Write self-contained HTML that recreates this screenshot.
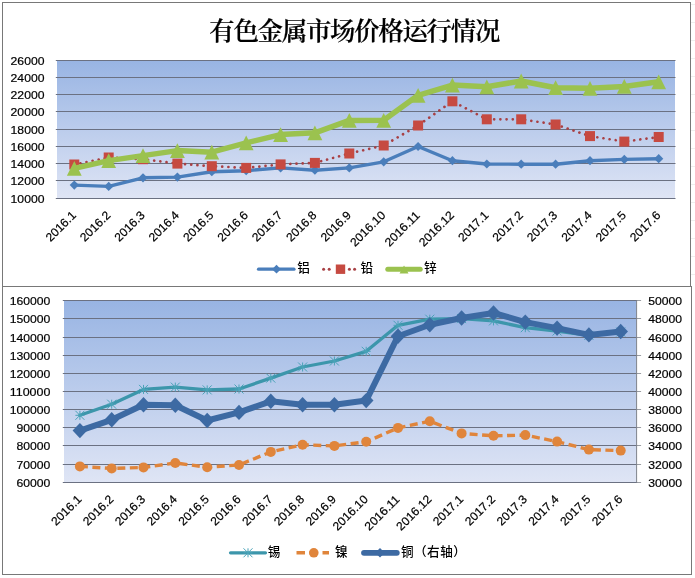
<!DOCTYPE html>
<html lang="zh-CN"><head><meta charset="utf-8"><title>有色金属市场价格运行情况</title>
<style>html,body{margin:0;padding:0;background:#fff}body{width:695px;height:578px;overflow:hidden}svg{display:block}</style>
</head><body>
<svg width="695" height="578" viewBox="0 0 695 578">
<defs>
<linearGradient id="pg" x1="0" y1="0" x2="0" y2="1"><stop offset="0" stop-color="#98b4e3"/><stop offset="1" stop-color="#dfe5f5"/></linearGradient>
</defs>
<rect width="695" height="578" fill="#fff"/>
<line x1="691" y1="4.5" x2="695" y2="4.5" stroke="#efefef"/><line x1="691" y1="22.5" x2="695" y2="22.5" stroke="#efefef"/><line x1="691" y1="40.5" x2="695" y2="40.5" stroke="#efefef"/><line x1="691" y1="58.5" x2="695" y2="58.5" stroke="#efefef"/><line x1="691" y1="76.5" x2="695" y2="76.5" stroke="#efefef"/><line x1="691" y1="94.5" x2="695" y2="94.5" stroke="#efefef"/><line x1="691" y1="112.5" x2="695" y2="112.5" stroke="#efefef"/><line x1="691" y1="130.5" x2="695" y2="130.5" stroke="#efefef"/><line x1="691" y1="148.5" x2="695" y2="148.5" stroke="#efefef"/><line x1="691" y1="166.5" x2="695" y2="166.5" stroke="#efefef"/><line x1="691" y1="184.5" x2="695" y2="184.5" stroke="#efefef"/><line x1="691" y1="202.5" x2="695" y2="202.5" stroke="#efefef"/><line x1="691" y1="220.5" x2="695" y2="220.5" stroke="#efefef"/><line x1="691" y1="238.5" x2="695" y2="238.5" stroke="#efefef"/><line x1="691" y1="256.5" x2="695" y2="256.5" stroke="#efefef"/><line x1="691" y1="274.5" x2="695" y2="274.5" stroke="#efefef"/>
<rect x="2.5" y="2.5" width="688" height="284" fill="#fff" stroke="#787878"/>
<rect x="2.5" y="286.5" width="689" height="288" fill="#fff" stroke="#787878"/>
<rect x="57" y="60.5" width="618" height="138" fill="url(#pg)"/>
<line x1="55.8" y1="60.5" x2="675.5" y2="60.5" stroke="#6b7182" stroke-width="1"/>
<line x1="55.8" y1="77.5" x2="675.5" y2="77.5" stroke="#6b7182" stroke-width="1"/>
<line x1="55.8" y1="94.5" x2="675.5" y2="94.5" stroke="#6b7182" stroke-width="1"/>
<line x1="55.8" y1="111.5" x2="675.5" y2="111.5" stroke="#6b7182" stroke-width="1"/>
<line x1="55.8" y1="129.5" x2="675.5" y2="129.5" stroke="#6b7182" stroke-width="1"/>
<line x1="55.8" y1="146.5" x2="675.5" y2="146.5" stroke="#6b7182" stroke-width="1"/>
<line x1="55.8" y1="163.5" x2="675.5" y2="163.5" stroke="#6b7182" stroke-width="1"/>
<line x1="55.8" y1="180.5" x2="675.5" y2="180.5" stroke="#6b7182" stroke-width="1"/>
<line x1="55.8" y1="198.5" x2="675.5" y2="198.5" stroke="#6b7182" stroke-width="1"/>
<g font-family="'Liberation Sans',sans-serif" font-size="11.8" stroke="#000" stroke-width="0.2" fill="#000" text-anchor="end">
<text x="44.5" y="64.5" textLength="33.9" lengthAdjust="spacingAndGlyphs">26000</text>
<text x="44.5" y="81.5" textLength="33.9" lengthAdjust="spacingAndGlyphs">24000</text>
<text x="44.5" y="98.5" textLength="33.9" lengthAdjust="spacingAndGlyphs">22000</text>
<text x="44.5" y="115.5" textLength="33.9" lengthAdjust="spacingAndGlyphs">20000</text>
<text x="44.5" y="133.5" textLength="33.9" lengthAdjust="spacingAndGlyphs">18000</text>
<text x="44.5" y="150.5" textLength="33.9" lengthAdjust="spacingAndGlyphs">16000</text>
<text x="44.5" y="167.5" textLength="33.9" lengthAdjust="spacingAndGlyphs">14000</text>
<text x="44.5" y="184.5" textLength="33.9" lengthAdjust="spacingAndGlyphs">12000</text>
<text x="44.5" y="202.5" textLength="33.9" lengthAdjust="spacingAndGlyphs">10000</text>
</g>
<g font-family="'Liberation Sans',sans-serif" font-size="11.8" stroke="#000" stroke-width="0.2" fill="#000" text-anchor="end">
<text transform="translate(76.8 216) rotate(-45)" textLength="37.3" lengthAdjust="spacingAndGlyphs">2016.1</text>
<text transform="translate(111.2 216) rotate(-45)" textLength="37.3" lengthAdjust="spacingAndGlyphs">2016.2</text>
<text transform="translate(145.5 216) rotate(-45)" textLength="37.3" lengthAdjust="spacingAndGlyphs">2016.3</text>
<text transform="translate(179.9 216) rotate(-45)" textLength="37.3" lengthAdjust="spacingAndGlyphs">2016.4</text>
<text transform="translate(214.3 216) rotate(-45)" textLength="37.3" lengthAdjust="spacingAndGlyphs">2016.5</text>
<text transform="translate(248.7 216) rotate(-45)" textLength="37.3" lengthAdjust="spacingAndGlyphs">2016.6</text>
<text transform="translate(283.1 216) rotate(-45)" textLength="37.3" lengthAdjust="spacingAndGlyphs">2016.7</text>
<text transform="translate(317.4 216) rotate(-45)" textLength="37.3" lengthAdjust="spacingAndGlyphs">2016.8</text>
<text transform="translate(351.8 216) rotate(-45)" textLength="37.3" lengthAdjust="spacingAndGlyphs">2016.9</text>
<text transform="translate(386.2 216) rotate(-45)" textLength="44.1" lengthAdjust="spacingAndGlyphs">2016.10</text>
<text transform="translate(420.6 216) rotate(-45)" textLength="44.1" lengthAdjust="spacingAndGlyphs">2016.11</text>
<text transform="translate(454.9 216) rotate(-45)" textLength="44.1" lengthAdjust="spacingAndGlyphs">2016.12</text>
<text transform="translate(489.3 216) rotate(-45)" textLength="37.3" lengthAdjust="spacingAndGlyphs">2017.1</text>
<text transform="translate(523.7 216) rotate(-45)" textLength="37.3" lengthAdjust="spacingAndGlyphs">2017.2</text>
<text transform="translate(558.1 216) rotate(-45)" textLength="37.3" lengthAdjust="spacingAndGlyphs">2017.3</text>
<text transform="translate(592.5 216) rotate(-45)" textLength="37.3" lengthAdjust="spacingAndGlyphs">2017.4</text>
<text transform="translate(626.8 216) rotate(-45)" textLength="37.3" lengthAdjust="spacingAndGlyphs">2017.5</text>
<text transform="translate(661.2 216) rotate(-45)" textLength="37.3" lengthAdjust="spacingAndGlyphs">2017.6</text>
</g>
<polyline points="74.3,185.1 108.7,186.4 143,177.8 177.4,177.1 211.8,171.7 246.2,170.7 280.6,167.9 314.9,170.2 349.3,167.9 383.7,161.8 418.1,146.5 452.4,160.7 486.8,164 521.2,164.2 555.6,164.2 590,160.7 624.3,159.4 658.7,158.7" fill="none" stroke="#4a7ebb" stroke-width="3.4" stroke-linejoin="round" stroke-linecap="round"/>
<path d="M74.3 180.5L78.9 185.1L74.3 189.7L69.7 185.1Z" fill="#4a7ebb"/><path d="M108.7 181.8L113.3 186.4L108.7 191L104.1 186.4Z" fill="#4a7ebb"/><path d="M143 173.2L147.6 177.8L143 182.4L138.4 177.8Z" fill="#4a7ebb"/><path d="M177.4 172.5L182 177.1L177.4 181.7L172.8 177.1Z" fill="#4a7ebb"/><path d="M211.8 167.1L216.4 171.7L211.8 176.3L207.2 171.7Z" fill="#4a7ebb"/><path d="M246.2 166.1L250.8 170.7L246.2 175.3L241.6 170.7Z" fill="#4a7ebb"/><path d="M280.6 163.3L285.2 167.9L280.6 172.5L276 167.9Z" fill="#4a7ebb"/><path d="M314.9 165.6L319.5 170.2L314.9 174.8L310.3 170.2Z" fill="#4a7ebb"/><path d="M349.3 163.3L353.9 167.9L349.3 172.5L344.7 167.9Z" fill="#4a7ebb"/><path d="M383.7 157.2L388.3 161.8L383.7 166.4L379.1 161.8Z" fill="#4a7ebb"/><path d="M418.1 141.9L422.7 146.5L418.1 151.1L413.5 146.5Z" fill="#4a7ebb"/><path d="M452.4 156.1L457 160.7L452.4 165.3L447.8 160.7Z" fill="#4a7ebb"/><path d="M486.8 159.4L491.4 164L486.8 168.6L482.2 164Z" fill="#4a7ebb"/><path d="M521.2 159.6L525.8 164.2L521.2 168.8L516.6 164.2Z" fill="#4a7ebb"/><path d="M555.6 159.6L560.2 164.2L555.6 168.8L551 164.2Z" fill="#4a7ebb"/><path d="M590 156.1L594.6 160.7L590 165.3L585.4 160.7Z" fill="#4a7ebb"/><path d="M624.3 154.8L628.9 159.4L624.3 164L619.7 159.4Z" fill="#4a7ebb"/><path d="M658.7 154.1L663.3 158.7L658.7 163.3L654.1 158.7Z" fill="#4a7ebb"/>
<polyline points="74.3,164.5 108.7,157.5 143,159.2 177.4,163.6 211.8,166.2 246.2,167.9 280.6,164.4 314.9,162.9 349.3,153.5 383.7,145.5 418.1,125.5 452.4,101.3 486.8,119.3 521.2,119.3 555.6,124.5 590,136.1 624.3,141.6 658.7,137" fill="none" stroke="#a84044" stroke-width="2.7" stroke-dasharray="0.01 6.2" stroke-linecap="round" stroke-linejoin="round"/>
<rect x="69.3" y="159.5" width="10" height="10" fill="#c64a41"/><rect x="103.7" y="152.5" width="10" height="10" fill="#c64a41"/><rect x="138" y="154.2" width="10" height="10" fill="#c64a41"/><rect x="172.4" y="158.6" width="10" height="10" fill="#c64a41"/><rect x="206.8" y="161.2" width="10" height="10" fill="#c64a41"/><rect x="241.2" y="162.9" width="10" height="10" fill="#c64a41"/><rect x="275.6" y="159.4" width="10" height="10" fill="#c64a41"/><rect x="309.9" y="157.9" width="10" height="10" fill="#c64a41"/><rect x="344.3" y="148.5" width="10" height="10" fill="#c64a41"/><rect x="378.7" y="140.5" width="10" height="10" fill="#c64a41"/><rect x="413.1" y="120.5" width="10" height="10" fill="#c64a41"/><rect x="447.4" y="96.3" width="10" height="10" fill="#c64a41"/><rect x="481.8" y="114.3" width="10" height="10" fill="#c64a41"/><rect x="516.2" y="114.3" width="10" height="10" fill="#c64a41"/><rect x="550.6" y="119.5" width="10" height="10" fill="#c64a41"/><rect x="585" y="131.1" width="10" height="10" fill="#c64a41"/><rect x="619.3" y="136.6" width="10" height="10" fill="#c64a41"/><rect x="653.7" y="132" width="10" height="10" fill="#c64a41"/>
<polyline points="74.3,168.4 108.7,160.6 143,155.6 177.4,150.6 211.8,152.2 246.2,142.9 280.6,134.6 314.9,132.8 349.3,120.4 383.7,120.3 418.1,95.3 452.4,85.1 486.8,86.8 521.2,81 555.6,87.7 590,88.3 624.3,86.4 658.7,81.8" fill="none" stroke="#9bc24f" stroke-width="5.5" stroke-linejoin="round" stroke-linecap="round"/>
<path d="M74.3 161L81.7 175.8L66.9 175.8Z" fill="#9bc24f"/><path d="M108.7 153.2L116.1 168L101.3 168Z" fill="#9bc24f"/><path d="M143 148.2L150.4 163L135.6 163Z" fill="#9bc24f"/><path d="M177.4 143.2L184.8 158L170 158Z" fill="#9bc24f"/><path d="M211.8 144.8L219.2 159.6L204.4 159.6Z" fill="#9bc24f"/><path d="M246.2 135.5L253.6 150.3L238.8 150.3Z" fill="#9bc24f"/><path d="M280.6 127.2L288 142L273.2 142Z" fill="#9bc24f"/><path d="M314.9 125.4L322.3 140.2L307.5 140.2Z" fill="#9bc24f"/><path d="M349.3 113L356.7 127.8L341.9 127.8Z" fill="#9bc24f"/><path d="M383.7 112.9L391.1 127.7L376.3 127.7Z" fill="#9bc24f"/><path d="M418.1 87.9L425.5 102.7L410.7 102.7Z" fill="#9bc24f"/><path d="M452.4 77.7L459.8 92.5L445 92.5Z" fill="#9bc24f"/><path d="M486.8 79.4L494.2 94.2L479.4 94.2Z" fill="#9bc24f"/><path d="M521.2 73.6L528.6 88.4L513.8 88.4Z" fill="#9bc24f"/><path d="M555.6 80.3L563 95.1L548.2 95.1Z" fill="#9bc24f"/><path d="M590 80.9L597.4 95.7L582.6 95.7Z" fill="#9bc24f"/><path d="M624.3 79L631.7 93.8L616.9 93.8Z" fill="#9bc24f"/><path d="M658.7 74.4L666.1 89.2L651.3 89.2Z" fill="#9bc24f"/>
<text x="209.3" y="39.8" textLength="291" lengthAdjust="spacing" font-family="'Liberation Serif','Noto Serif CJK SC',serif" font-size="25.4" font-weight="600" fill="#000" stroke="#000" stroke-width="0.2">有色金属市场价格运行情况</text>
<line x1="258.5" y1="269.2" x2="294" y2="269.2" stroke="#4a7ebb" stroke-width="3.2" stroke-linecap="round"/>
<path d="M276.5 264.8L280.9 269.2L276.5 273.6L272.1 269.2Z" fill="#4a7ebb"/>
<circle cx="323.6" cy="269.2" r="1.5" fill="#a84044"/><circle cx="329.2" cy="269.2" r="1.5" fill="#a84044"/><circle cx="349.4" cy="269.2" r="1.5" fill="#a84044"/><circle cx="354.6" cy="269.2" r="1.5" fill="#a84044"/>
<rect x="335.8" y="264.5" width="9.4" height="9.4" fill="#c64a41"/>
<line x1="387.8" y1="269.2" x2="420.2" y2="269.2" stroke="#9bc24f" stroke-width="5" stroke-linecap="round"/>
<path d="M404 265.5L408.5 273.5L399.5 273.5Z" fill="#9bc24f"/>
<g font-family="'Liberation Sans','Noto Sans CJK SC',sans-serif" font-size="12.6" font-weight="500" fill="#000"><text x="297.2" y="272.3">铝</text><text x="360.6" y="272.3">铅</text><text x="424" y="272.3">锌</text></g>
<rect x="64" y="300.5" width="572.6" height="182" fill="url(#pg)"/>
<line x1="636.6" y1="300.5" x2="641.1" y2="300.5" stroke="#9b9ea3" stroke-width="1"/>
<line x1="62.8" y1="300.5" x2="637.1" y2="300.5" stroke="#6b7182" stroke-width="1"/>
<line x1="636.6" y1="318.5" x2="641.1" y2="318.5" stroke="#9b9ea3" stroke-width="1"/>
<line x1="62.8" y1="318.5" x2="637.1" y2="318.5" stroke="#6b7182" stroke-width="1"/>
<line x1="636.6" y1="337.5" x2="641.1" y2="337.5" stroke="#9b9ea3" stroke-width="1"/>
<line x1="62.8" y1="337.5" x2="637.1" y2="337.5" stroke="#6b7182" stroke-width="1"/>
<line x1="636.6" y1="355.5" x2="641.1" y2="355.5" stroke="#9b9ea3" stroke-width="1"/>
<line x1="62.8" y1="355.5" x2="637.1" y2="355.5" stroke="#6b7182" stroke-width="1"/>
<line x1="636.6" y1="373.5" x2="641.1" y2="373.5" stroke="#9b9ea3" stroke-width="1"/>
<line x1="62.8" y1="373.5" x2="637.1" y2="373.5" stroke="#6b7182" stroke-width="1"/>
<line x1="636.6" y1="391.5" x2="641.1" y2="391.5" stroke="#9b9ea3" stroke-width="1"/>
<line x1="62.8" y1="391.5" x2="637.1" y2="391.5" stroke="#6b7182" stroke-width="1"/>
<line x1="636.6" y1="409.5" x2="641.1" y2="409.5" stroke="#9b9ea3" stroke-width="1"/>
<line x1="62.8" y1="409.5" x2="637.1" y2="409.5" stroke="#6b7182" stroke-width="1"/>
<line x1="636.6" y1="427.5" x2="641.1" y2="427.5" stroke="#9b9ea3" stroke-width="1"/>
<line x1="62.8" y1="427.5" x2="637.1" y2="427.5" stroke="#6b7182" stroke-width="1"/>
<line x1="636.6" y1="445.5" x2="641.1" y2="445.5" stroke="#9b9ea3" stroke-width="1"/>
<line x1="62.8" y1="445.5" x2="637.1" y2="445.5" stroke="#6b7182" stroke-width="1"/>
<line x1="636.6" y1="464.5" x2="641.1" y2="464.5" stroke="#9b9ea3" stroke-width="1"/>
<line x1="62.8" y1="464.5" x2="637.1" y2="464.5" stroke="#6b7182" stroke-width="1"/>
<line x1="636.6" y1="482.5" x2="641.1" y2="482.5" stroke="#9b9ea3" stroke-width="1"/>
<line x1="62.8" y1="482.5" x2="637.1" y2="482.5" stroke="#6b7182" stroke-width="1"/>
<line x1="636.6" y1="300.5" x2="636.6" y2="482.5" stroke="#7f848c" stroke-width="1"/>
<g font-family="'Liberation Sans',sans-serif" font-size="11.8" stroke="#000" stroke-width="0.2" fill="#000" text-anchor="end">
<text x="50.4" y="305.1" textLength="40.7" lengthAdjust="spacingAndGlyphs">160000</text>
<text x="50.4" y="323.1" textLength="40.7" lengthAdjust="spacingAndGlyphs">150000</text>
<text x="50.4" y="342.1" textLength="40.7" lengthAdjust="spacingAndGlyphs">140000</text>
<text x="50.4" y="360.1" textLength="40.7" lengthAdjust="spacingAndGlyphs">130000</text>
<text x="50.4" y="378.1" textLength="40.7" lengthAdjust="spacingAndGlyphs">120000</text>
<text x="50.4" y="396.1" textLength="40.7" lengthAdjust="spacingAndGlyphs">110000</text>
<text x="50.4" y="414.1" textLength="40.7" lengthAdjust="spacingAndGlyphs">100000</text>
<text x="50.4" y="432.1" textLength="33.9" lengthAdjust="spacingAndGlyphs">90000</text>
<text x="50.4" y="450.1" textLength="33.9" lengthAdjust="spacingAndGlyphs">80000</text>
<text x="50.4" y="469.1" textLength="33.9" lengthAdjust="spacingAndGlyphs">70000</text>
<text x="50.4" y="487.1" textLength="33.9" lengthAdjust="spacingAndGlyphs">60000</text>
</g>
<g font-family="'Liberation Sans',sans-serif" font-size="11.8" stroke="#000" stroke-width="0.2" fill="#000" text-anchor="start">
<text x="648.2" y="305.1" textLength="33.9" lengthAdjust="spacingAndGlyphs">50000</text>
<text x="648.2" y="323.1" textLength="33.9" lengthAdjust="spacingAndGlyphs">48000</text>
<text x="648.2" y="342.1" textLength="33.9" lengthAdjust="spacingAndGlyphs">46000</text>
<text x="648.2" y="360.1" textLength="33.9" lengthAdjust="spacingAndGlyphs">44000</text>
<text x="648.2" y="378.1" textLength="33.9" lengthAdjust="spacingAndGlyphs">42000</text>
<text x="648.2" y="396.1" textLength="33.9" lengthAdjust="spacingAndGlyphs">40000</text>
<text x="648.2" y="414.1" textLength="33.9" lengthAdjust="spacingAndGlyphs">38000</text>
<text x="648.2" y="432.1" textLength="33.9" lengthAdjust="spacingAndGlyphs">36000</text>
<text x="648.2" y="450.1" textLength="33.9" lengthAdjust="spacingAndGlyphs">34000</text>
<text x="648.2" y="469.1" textLength="33.9" lengthAdjust="spacingAndGlyphs">32000</text>
<text x="648.2" y="487.1" textLength="33.9" lengthAdjust="spacingAndGlyphs">30000</text>
</g>
<g font-family="'Liberation Sans',sans-serif" font-size="11.8" stroke="#000" stroke-width="0.2" fill="#000" text-anchor="end">
<text transform="translate(82.4 500) rotate(-45)" textLength="37.3" lengthAdjust="spacingAndGlyphs">2016.1</text>
<text transform="translate(114.2 500) rotate(-45)" textLength="37.3" lengthAdjust="spacingAndGlyphs">2016.2</text>
<text transform="translate(146 500) rotate(-45)" textLength="37.3" lengthAdjust="spacingAndGlyphs">2016.3</text>
<text transform="translate(177.8 500) rotate(-45)" textLength="37.3" lengthAdjust="spacingAndGlyphs">2016.4</text>
<text transform="translate(209.7 500) rotate(-45)" textLength="37.3" lengthAdjust="spacingAndGlyphs">2016.5</text>
<text transform="translate(241.5 500) rotate(-45)" textLength="37.3" lengthAdjust="spacingAndGlyphs">2016.6</text>
<text transform="translate(273.3 500) rotate(-45)" textLength="37.3" lengthAdjust="spacingAndGlyphs">2016.7</text>
<text transform="translate(305.1 500) rotate(-45)" textLength="37.3" lengthAdjust="spacingAndGlyphs">2016.8</text>
<text transform="translate(336.9 500) rotate(-45)" textLength="37.3" lengthAdjust="spacingAndGlyphs">2016.9</text>
<text transform="translate(368.7 500) rotate(-45)" textLength="44.1" lengthAdjust="spacingAndGlyphs">2016.10</text>
<text transform="translate(400.5 500) rotate(-45)" textLength="44.1" lengthAdjust="spacingAndGlyphs">2016.11</text>
<text transform="translate(432.3 500) rotate(-45)" textLength="44.1" lengthAdjust="spacingAndGlyphs">2016.12</text>
<text transform="translate(464.1 500) rotate(-45)" textLength="37.3" lengthAdjust="spacingAndGlyphs">2017.1</text>
<text transform="translate(496 500) rotate(-45)" textLength="37.3" lengthAdjust="spacingAndGlyphs">2017.2</text>
<text transform="translate(527.8 500) rotate(-45)" textLength="37.3" lengthAdjust="spacingAndGlyphs">2017.3</text>
<text transform="translate(559.6 500) rotate(-45)" textLength="37.3" lengthAdjust="spacingAndGlyphs">2017.4</text>
<text transform="translate(591.4 500) rotate(-45)" textLength="37.3" lengthAdjust="spacingAndGlyphs">2017.5</text>
<text transform="translate(623.2 500) rotate(-45)" textLength="37.3" lengthAdjust="spacingAndGlyphs">2017.6</text>
</g>
<polyline points="79.9,415.3 111.7,404.2 143.5,389.4 175.3,387.1 207.2,389.9 239,389 270.8,378.1 302.6,367 334.4,361 366.2,351.3 398,325.3 429.8,319.2 461.6,318.6 493.5,320.9 525.3,327.7 557.1,331 588.9,335.4 620.7,332" fill="none" stroke="#3c96ab" stroke-width="3.3" stroke-linejoin="round" stroke-linecap="round"/>
<path d="M75.4 410.8L84.4 419.8M75.4 419.8L84.4 410.8M79.9 410.8L79.9 419.8M75.4 415.3L84.4 415.3" stroke="#4aa3b8" stroke-width="1" fill="none"/><path d="M107.2 399.7L116.2 408.7M107.2 408.7L116.2 399.7M111.7 399.7L111.7 408.7M107.2 404.2L116.2 404.2" stroke="#4aa3b8" stroke-width="1" fill="none"/><path d="M139 384.9L148 393.9M139 393.9L148 384.9M143.5 384.9L143.5 393.9M139 389.4L148 389.4" stroke="#4aa3b8" stroke-width="1" fill="none"/><path d="M170.8 382.6L179.8 391.6M170.8 391.6L179.8 382.6M175.3 382.6L175.3 391.6M170.8 387.1L179.8 387.1" stroke="#4aa3b8" stroke-width="1" fill="none"/><path d="M202.7 385.4L211.7 394.4M202.7 394.4L211.7 385.4M207.2 385.4L207.2 394.4M202.7 389.9L211.7 389.9" stroke="#4aa3b8" stroke-width="1" fill="none"/><path d="M234.5 384.5L243.5 393.5M234.5 393.5L243.5 384.5M239 384.5L239 393.5M234.5 389L243.5 389" stroke="#4aa3b8" stroke-width="1" fill="none"/><path d="M266.3 373.6L275.3 382.6M266.3 382.6L275.3 373.6M270.8 373.6L270.8 382.6M266.3 378.1L275.3 378.1" stroke="#4aa3b8" stroke-width="1" fill="none"/><path d="M298.1 362.5L307.1 371.5M298.1 371.5L307.1 362.5M302.6 362.5L302.6 371.5M298.1 367L307.1 367" stroke="#4aa3b8" stroke-width="1" fill="none"/><path d="M329.9 356.5L338.9 365.5M329.9 365.5L338.9 356.5M334.4 356.5L334.4 365.5M329.9 361L338.9 361" stroke="#4aa3b8" stroke-width="1" fill="none"/><path d="M361.7 346.8L370.7 355.8M361.7 355.8L370.7 346.8M366.2 346.8L366.2 355.8M361.7 351.3L370.7 351.3" stroke="#4aa3b8" stroke-width="1" fill="none"/><path d="M393.5 320.8L402.5 329.8M393.5 329.8L402.5 320.8M398 320.8L398 329.8M393.5 325.3L402.5 325.3" stroke="#4aa3b8" stroke-width="1" fill="none"/><path d="M425.3 314.7L434.3 323.7M425.3 323.7L434.3 314.7M429.8 314.7L429.8 323.7M425.3 319.2L434.3 319.2" stroke="#4aa3b8" stroke-width="1" fill="none"/><path d="M457.1 314.1L466.1 323.1M457.1 323.1L466.1 314.1M461.6 314.1L461.6 323.1M457.1 318.6L466.1 318.6" stroke="#4aa3b8" stroke-width="1" fill="none"/><path d="M489 316.4L498 325.4M489 325.4L498 316.4M493.5 316.4L493.5 325.4M489 320.9L498 320.9" stroke="#4aa3b8" stroke-width="1" fill="none"/><path d="M520.8 323.2L529.8 332.2M520.8 332.2L529.8 323.2M525.3 323.2L525.3 332.2M520.8 327.7L529.8 327.7" stroke="#4aa3b8" stroke-width="1" fill="none"/><path d="M552.6 326.5L561.6 335.5M552.6 335.5L561.6 326.5M557.1 326.5L557.1 335.5M552.6 331L561.6 331" stroke="#4aa3b8" stroke-width="1" fill="none"/><path d="M584.4 330.9L593.4 339.9M584.4 339.9L593.4 330.9M588.9 330.9L588.9 339.9M584.4 335.4L593.4 335.4" stroke="#4aa3b8" stroke-width="1" fill="none"/><path d="M616.2 327.5L625.2 336.5M616.2 336.5L625.2 327.5M620.7 327.5L620.7 336.5M616.2 332L625.2 332" stroke="#4aa3b8" stroke-width="1" fill="none"/>
<polyline points="79.9,466.4 111.7,468.4 143.5,467.4 175.3,463 207.2,467.2 239,465 270.8,451.9 302.6,444.8 334.4,445.9 366.2,441.8 398,427.9 429.8,421.2 461.6,433.4 493.5,435.8 525.3,435.1 557.1,441.6 588.9,449.6 620.7,450.6" fill="none" stroke="#e0853b" stroke-width="3.4" stroke-dasharray="8 4.5" stroke-linejoin="round"/>
<circle cx="79.9" cy="466.4" r="5" fill="#e0853b"/><circle cx="111.7" cy="468.4" r="5" fill="#e0853b"/><circle cx="143.5" cy="467.4" r="5" fill="#e0853b"/><circle cx="175.3" cy="463" r="5" fill="#e0853b"/><circle cx="207.2" cy="467.2" r="5" fill="#e0853b"/><circle cx="239" cy="465" r="5" fill="#e0853b"/><circle cx="270.8" cy="451.9" r="5" fill="#e0853b"/><circle cx="302.6" cy="444.8" r="5" fill="#e0853b"/><circle cx="334.4" cy="445.9" r="5" fill="#e0853b"/><circle cx="366.2" cy="441.8" r="5" fill="#e0853b"/><circle cx="398" cy="427.9" r="5" fill="#e0853b"/><circle cx="429.8" cy="421.2" r="5" fill="#e0853b"/><circle cx="461.6" cy="433.4" r="5" fill="#e0853b"/><circle cx="493.5" cy="435.8" r="5" fill="#e0853b"/><circle cx="525.3" cy="435.1" r="5" fill="#e0853b"/><circle cx="557.1" cy="441.6" r="5" fill="#e0853b"/><circle cx="588.9" cy="449.6" r="5" fill="#e0853b"/><circle cx="620.7" cy="450.6" r="5" fill="#e0853b"/>
<polyline points="79.9,430.6 111.7,419.8 143.5,404.7 175.3,405.3 207.2,420.5 239,412.4 270.8,401.3 302.6,404.7 334.4,404.7 366.2,400.6 398,336.2 429.8,324.8 461.6,318 493.5,313 525.3,322.1 557.1,328.1 588.9,334.9 620.7,331.5" fill="none" stroke="#3d6aa3" stroke-width="6" stroke-linejoin="round" stroke-linecap="round"/>
<path d="M79.9 422.9L87.2 430.6L79.9 438.3L72.6 430.6Z" fill="#3d6aa3"/><path d="M111.7 412.1L119 419.8L111.7 427.5L104.4 419.8Z" fill="#3d6aa3"/><path d="M143.5 397L150.8 404.7L143.5 412.4L136.2 404.7Z" fill="#3d6aa3"/><path d="M175.3 397.6L182.6 405.3L175.3 413L168 405.3Z" fill="#3d6aa3"/><path d="M207.2 412.8L214.5 420.5L207.2 428.2L199.8 420.5Z" fill="#3d6aa3"/><path d="M239 404.7L246.3 412.4L239 420.1L231.7 412.4Z" fill="#3d6aa3"/><path d="M270.8 393.6L278.1 401.3L270.8 409L263.5 401.3Z" fill="#3d6aa3"/><path d="M302.6 397L309.9 404.7L302.6 412.4L295.3 404.7Z" fill="#3d6aa3"/><path d="M334.4 397L341.7 404.7L334.4 412.4L327.1 404.7Z" fill="#3d6aa3"/><path d="M366.2 392.9L373.5 400.6L366.2 408.3L358.9 400.6Z" fill="#3d6aa3"/><path d="M398 328.5L405.3 336.2L398 343.9L390.7 336.2Z" fill="#3d6aa3"/><path d="M429.8 317.1L437.1 324.8L429.8 332.5L422.5 324.8Z" fill="#3d6aa3"/><path d="M461.6 310.3L468.9 318L461.6 325.7L454.3 318Z" fill="#3d6aa3"/><path d="M493.5 305.3L500.8 313L493.5 320.7L486.2 313Z" fill="#3d6aa3"/><path d="M525.3 314.4L532.6 322.1L525.3 329.8L518 322.1Z" fill="#3d6aa3"/><path d="M557.1 320.4L564.4 328.1L557.1 335.8L549.8 328.1Z" fill="#3d6aa3"/><path d="M588.9 327.2L596.2 334.9L588.9 342.6L581.6 334.9Z" fill="#3d6aa3"/><path d="M620.7 323.8L628 331.5L620.7 339.2L613.4 331.5Z" fill="#3d6aa3"/>
<line x1="230.5" y1="552.8" x2="265.5" y2="552.8" stroke="#3c96ab" stroke-width="3.2" stroke-linecap="round"/>
<path d="M243.5 548.3L252.5 557.3M243.5 557.3L252.5 548.3M248 548.3L248 557.3M243.5 552.8L252.5 552.8" stroke="#4aa3b8" stroke-width="1" fill="none"/>
<line x1="296.5" y1="552.8" x2="329" y2="552.8" stroke="#e0853b" stroke-width="3.4" stroke-dasharray="8.5 4.5"/>
<circle cx="313.8" cy="552.8" r="4.8" fill="#e0853b"/>
<line x1="364" y1="552.8" x2="396.8" y2="552.8" stroke="#3d6aa3" stroke-width="5.8" stroke-linecap="round"/>
<path d="M380 548L384.8 552.8L380 557.6L375.2 552.8Z" fill="#3d6aa3"/>
<g font-family="'Liberation Sans','Noto Sans CJK SC',sans-serif" font-size="12.6" font-weight="500" fill="#000"><text x="267.7" y="555.6">锡</text><text x="335" y="555.6">镍</text><text x="401" y="555.6" letter-spacing="0.45">铜（右轴）</text></g>
</svg></body></html>
